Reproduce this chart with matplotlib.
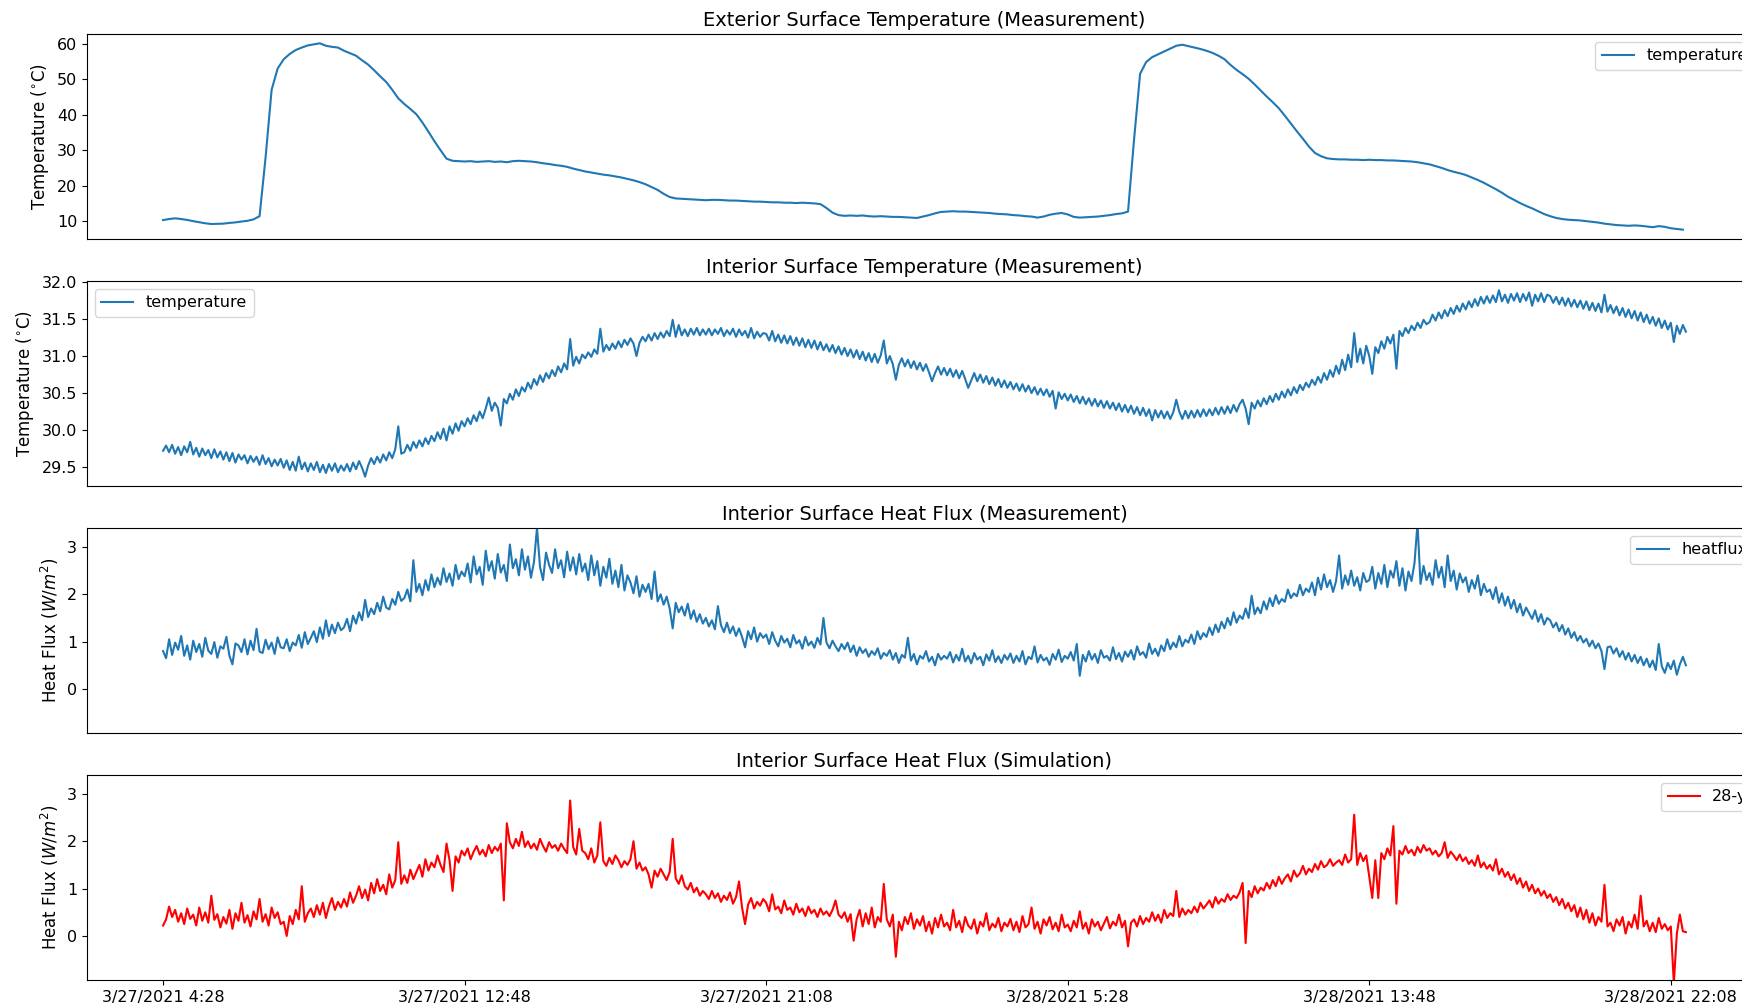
import numpy as np
import matplotlib
matplotlib.use('Agg')
import matplotlib.pyplot as plt


# sample spacing in minutes from 3/27/2021 4:28
ext_step = 10
step = 5

tick_pos = [0, 500, 1000, 1500, 2000, 2500]
tick_labels = ['3/27/2021 4:28', '3/27/2021 12:48', '3/27/2021 21:08',
               '3/28/2021 5:28', '3/28/2021 13:48', '3/28/2021 22:08']

# exterior surface temperature (measurement), every 10 min
ext_temp = [
    10.3, 10.6, 10.8, 10.6, 10.35, 10.0, 9.7, 9.4, 9.2, 9.25,
    9.3, 9.5, 9.65, 9.9, 10.1, 10.5, 11.4, 28.0, 47.0, 53.0,
    55.6, 57.1, 58.2, 58.9, 59.5, 59.8, 60.1, 59.4, 59.1, 58.9,
    58.0, 57.3, 56.6, 55.3, 54.1, 52.5, 50.8, 49.2, 47.0, 44.6,
    43.0, 41.6, 40.1, 37.8, 35.2, 32.5, 30.0, 27.6, 27.0, 26.9,
    26.8, 26.9, 26.7, 26.8, 26.9, 26.7, 26.8, 26.6, 26.9, 27.0,
    26.9, 26.8, 26.6, 26.3, 26.1, 25.8, 25.6, 25.3, 24.8, 24.4,
    24.0, 23.7, 23.4, 23.1, 22.9, 22.6, 22.3, 21.9, 21.5, 21.0,
    20.4, 19.6, 18.8, 17.7, 16.8, 16.4, 16.3, 16.2, 16.1, 16.0,
    15.9, 16.0, 16.0, 15.9, 15.8, 15.8, 15.7, 15.6, 15.5, 15.5,
    15.4, 15.3, 15.3, 15.2, 15.2, 15.1, 15.2, 15.1, 15.0, 14.8,
    13.7, 12.4, 11.7, 11.5, 11.6, 11.5, 11.6, 11.4, 11.3, 11.4,
    11.3, 11.2, 11.2, 11.1, 11.0, 10.9, 11.3, 11.7, 12.2, 12.6,
    12.7, 12.8, 12.7, 12.7, 12.6, 12.5, 12.4, 12.3, 12.1, 12.0,
    11.9, 11.7, 11.6, 11.4, 11.3, 11.0, 11.3, 11.8, 12.1, 12.3,
    11.9, 11.2, 11.0, 11.1, 11.2, 11.3, 11.5, 11.7, 12.0, 12.2,
    12.7, 33.0, 51.5, 54.8, 56.2, 57.0, 57.8, 58.6, 59.4, 59.7,
    59.3, 58.9, 58.5, 58.0, 57.4, 56.6, 55.6, 54.0, 52.6, 51.4,
    50.1, 48.5, 46.8, 45.1, 43.5, 41.8, 39.7, 37.5, 35.3, 33.2,
    31.0, 29.2, 28.3, 27.7, 27.5, 27.4, 27.4, 27.3, 27.3, 27.2,
    27.3, 27.2, 27.2, 27.1, 27.1, 27.0, 26.9, 26.8, 26.6, 26.3,
    26.0, 25.5, 25.0, 24.4, 23.9, 23.5, 23.0, 22.3, 21.6, 20.8,
    19.9, 19.0, 18.0, 16.9, 16.0, 15.1, 14.3, 13.6, 12.8, 12.0,
    11.4, 10.9, 10.6, 10.4, 10.3, 10.2, 10.0, 9.8, 9.6, 9.3,
    9.1, 8.9, 8.8, 8.7, 8.8, 8.7, 8.5, 8.3, 8.6, 8.4,
    8.0, 7.8, 7.6,
]

# interior surface temperature (measurement), every 5 min
int_temp = [
    29.72, 29.79, 29.70, 29.80, 29.68, 29.77, 29.66, 29.78, 29.70, 29.84, 29.67, 29.76, 29.64, 29.75, 29.66, 29.73, 29.62, 29.74, 29.63, 29.71,
    29.60, 29.70, 29.58, 29.69, 29.56, 29.67, 29.60, 29.66, 29.55, 29.65, 29.57, 29.64, 29.53, 29.66, 29.54, 29.62, 29.51, 29.60, 29.52, 29.61,
    29.49, 29.59, 29.46, 29.57, 29.45, 29.64, 29.47, 29.56, 29.44, 29.55, 29.46, 29.57, 29.43, 29.53, 29.42, 29.54, 29.45, 29.55, 29.43, 29.52,
    29.45, 29.54, 29.44, 29.56, 29.47, 29.58, 29.49, 29.37, 29.52, 29.62, 29.54, 29.64, 29.56, 29.67, 29.59, 29.70, 29.62, 29.74, 30.05, 29.68,
    29.70, 29.80, 29.72, 29.84, 29.76, 29.86, 29.78, 29.89, 29.81, 29.92, 29.85, 29.97, 29.88, 30.02, 29.86, 30.05, 29.95, 30.09, 29.99, 30.12,
    30.05, 30.16, 30.08, 30.20, 30.12, 30.25, 30.16, 30.29, 30.44, 30.26, 30.37, 30.30, 30.06, 30.42, 30.36, 30.49, 30.41, 30.55, 30.46, 30.58,
    30.52, 30.64, 30.56, 30.69, 30.61, 30.74, 30.65, 30.77, 30.70, 30.81, 30.73, 30.86, 30.78, 30.90, 30.82, 31.23, 30.87, 30.99, 30.90, 31.02,
    30.97, 31.05, 30.99, 31.09, 31.03, 31.37, 31.06, 31.15, 31.08, 31.17, 31.10, 31.20, 31.12, 31.22, 31.15, 31.24, 31.17, 31.00, 31.18, 31.26,
    31.20, 31.29, 31.21, 31.31, 31.23, 31.32, 31.25, 31.34, 31.27, 31.49, 31.26, 31.42, 31.28, 31.36, 31.27, 31.37, 31.29, 31.38, 31.28, 31.36,
    31.29, 31.37, 31.28, 31.36, 31.30, 31.38, 31.27, 31.35, 31.29, 31.37, 31.26, 31.36, 31.28, 31.34, 31.25, 31.38, 31.24, 31.33, 31.26, 31.31,
    31.30, 31.21, 31.34, 31.20, 31.29, 31.18, 31.28, 31.17, 31.27, 31.15, 31.25, 31.14, 31.24, 31.12, 31.22, 31.11, 31.21, 31.09, 31.19, 31.08,
    31.16, 31.06, 31.15, 31.04, 31.13, 31.02, 31.11, 31.00, 31.09, 30.98, 31.08, 30.96, 31.06, 30.94, 31.04, 30.92, 31.03, 30.91, 31.01, 31.21,
    30.90, 31.00, 30.89, 30.68, 30.88, 30.97, 30.86, 30.95, 30.84, 30.93, 30.82, 30.91, 30.80, 30.89, 30.78, 30.66, 30.77, 30.86, 30.75, 30.84,
    30.74, 30.83, 30.72, 30.81, 30.70, 30.80, 30.69, 30.57, 30.67, 30.77, 30.66, 30.75, 30.64, 30.73, 30.62, 30.71, 30.60, 30.69, 30.58, 30.67,
    30.57, 30.65, 30.55, 30.63, 30.53, 30.62, 30.52, 30.60, 30.50, 30.58, 30.48, 30.56, 30.47, 30.55, 30.45, 30.53, 30.29, 30.51, 30.42, 30.49,
    30.40, 30.48, 30.38, 30.46, 30.36, 30.45, 30.35, 30.43, 30.33, 30.42, 30.32, 30.40, 30.30, 30.39, 30.29, 30.37, 30.27, 30.36, 30.25, 30.34,
    30.24, 30.33, 30.22, 30.31, 30.20, 30.30, 30.19, 30.28, 30.13, 30.27, 30.17, 30.26, 30.16, 30.25, 30.15, 30.24, 30.41, 30.25, 30.15, 30.26,
    30.16, 30.26, 30.17, 30.27, 30.18, 30.28, 30.19, 30.28, 30.20, 30.30, 30.21, 30.31, 30.22, 30.32, 30.23, 30.34, 30.25, 30.35, 30.41, 30.29,
    30.08, 30.37, 30.29, 30.40, 30.32, 30.43, 30.35, 30.46, 30.38, 30.49, 30.41, 30.52, 30.44, 30.55, 30.47, 30.58, 30.50, 30.61, 30.54, 30.64,
    30.58, 30.68, 30.61, 30.72, 30.64, 30.77, 30.68, 30.81, 30.72, 30.87, 30.76, 30.95, 30.81, 31.02, 30.85, 31.31, 30.92, 31.10, 30.90, 31.14,
    31.00, 30.76, 31.12, 31.04, 31.20, 31.10, 31.26, 31.17, 31.29, 30.83, 31.34, 31.27, 31.38, 31.31, 31.41, 31.35, 31.45, 31.38, 31.49, 31.43,
    31.46, 31.56, 31.48, 31.59, 31.51, 31.62, 31.54, 31.65, 31.57, 31.68, 31.60, 31.71, 31.63, 31.74, 31.66, 31.77, 31.68, 31.80, 31.71, 31.81,
    31.72, 31.82, 31.73, 31.89, 31.74, 31.83, 31.72, 31.84, 31.75, 31.85, 31.73, 31.84, 31.75, 31.86, 31.68, 31.83, 31.74, 31.85, 31.73, 31.83,
    31.81, 31.72, 31.80, 31.70, 31.79, 31.68, 31.78, 31.67, 31.76, 31.66, 31.75, 31.64, 31.74, 31.62, 31.72, 31.61, 31.71, 31.59, 31.83, 31.60,
    31.69, 31.58, 31.67, 31.55, 31.65, 31.53, 31.63, 31.51, 31.61, 31.48, 31.59, 31.46, 31.56, 31.44, 31.53, 31.41, 31.51, 31.38, 31.48, 31.36,
    31.45, 31.19, 31.41, 31.30, 31.42, 31.33,
]

# interior surface heat flux (measurement), every 5 min
heatflux = [
    0.80, 0.65, 1.05, 0.72, 0.98, 0.83, 1.12, 0.70, 0.92, 0.62, 1.02, 0.78, 0.95, 0.68, 1.08, 0.81, 0.74, 0.99, 0.66, 0.90,
    0.85, 1.10, 0.70, 0.52, 0.96, 0.92, 0.78, 1.05, 0.73, 1.02, 0.82, 1.27, 0.79, 0.76, 1.04, 0.84, 0.98, 0.74, 1.09, 0.88,
    0.86, 1.05, 0.80, 0.98, 0.92, 1.14, 0.87, 1.20, 0.95, 1.08, 1.22, 0.99, 1.30, 1.06, 1.45, 1.12, 1.36, 1.18, 1.40, 1.24,
    1.30, 1.48, 1.22, 1.55, 1.38, 1.62, 1.45, 1.88, 1.52, 1.70, 1.58, 1.82, 1.64, 1.95, 1.72, 1.68, 1.90, 1.78, 2.05, 1.86,
    1.92, 2.10, 1.85, 2.72, 2.05, 2.22, 1.98, 2.30, 2.08, 2.42, 2.15, 2.35, 2.20, 2.55, 2.26, 2.44, 2.18, 2.62, 2.32, 2.48,
    2.38, 2.65, 2.25, 2.80, 2.42, 2.58, 2.20, 2.92, 2.50, 2.70, 2.33, 2.85, 2.46, 2.62, 2.28, 3.05, 2.55, 2.74, 2.40, 2.95,
    2.52, 2.80, 2.35, 2.68, 3.40, 2.58, 2.30, 2.88, 2.62, 2.45, 2.95, 2.55, 2.72, 2.36, 2.90, 2.50, 2.78, 2.42, 2.85, 2.48,
    2.65, 2.30, 2.82, 2.40, 2.70, 2.18, 2.58, 2.35, 2.75, 2.22, 2.50, 2.15, 2.62, 2.08, 2.40, 2.25, 2.02, 2.38, 1.95, 2.20,
    2.05, 2.22, 1.90, 2.48, 1.85, 2.00, 1.78, 1.95, 1.70, 1.28, 1.82, 1.62, 1.74, 1.55, 1.80, 1.48, 1.66, 1.42, 1.58, 1.38,
    1.50, 1.32, 1.45, 1.26, 1.75, 1.35, 1.20, 1.40, 1.18, 1.32, 1.12, 1.28, 1.10, 0.88, 1.22, 1.05, 1.30, 1.00, 1.18, 1.08,
    1.15, 0.95, 1.20, 1.02, 0.90, 1.12, 0.98, 1.06, 0.88, 1.14, 0.96, 1.03, 0.85, 1.10, 0.92, 1.00, 0.87, 1.08, 0.94, 1.50,
    0.98, 0.86, 1.02, 0.90, 0.80, 0.95, 0.84, 0.98, 0.78, 0.92, 0.70, 0.88, 0.76, 0.84, 0.68, 0.80, 0.72, 0.86, 0.64, 0.76,
    0.70, 0.82, 0.62, 0.76, 0.55, 0.72, 0.66, 1.08, 0.60, 0.74, 0.52, 0.70, 0.64, 0.80, 0.58, 0.68, 0.50, 0.74, 0.62, 0.70,
    0.64, 0.78, 0.56, 0.72, 0.60, 0.85, 0.58, 0.70, 0.54, 0.76, 0.62, 0.68, 0.50, 0.73, 0.60, 0.82, 0.57, 0.69, 0.55, 0.72,
    0.62, 0.75, 0.55, 0.70, 0.58, 0.80, 0.52, 0.68, 0.63, 0.90, 0.56, 0.72, 0.60, 0.66, 0.51, 0.74, 0.62, 0.83, 0.57, 0.70,
    0.64, 0.78, 0.60, 0.95, 0.28, 0.72, 0.58, 0.80, 0.62, 0.74, 0.55, 0.82, 0.66, 0.70, 0.60, 0.88, 0.63, 0.76, 0.58, 0.79,
    0.68, 0.82, 0.62, 0.90, 0.72, 0.78, 0.66, 0.96, 0.74, 0.85, 0.70, 0.92, 0.80, 1.05, 0.84, 0.98, 0.88, 1.12, 0.90, 1.04,
    0.98, 1.15, 0.95, 1.22, 1.05, 1.18, 1.10, 1.30, 1.14, 1.36, 1.20, 1.42, 1.28, 1.50, 1.35, 1.62, 1.40, 1.55, 1.48, 1.70,
    1.50, 1.97, 1.58, 1.72, 1.60, 1.85, 1.68, 1.92, 1.75, 1.98, 1.80, 1.90, 1.84, 2.10, 1.92, 2.02, 1.96, 2.20, 1.98, 2.12,
    2.05, 2.25, 1.98, 2.35, 2.10, 2.42, 2.15, 2.30, 2.05, 2.28, 2.82, 2.12, 2.40, 2.20, 2.50, 2.18, 2.36, 2.08, 2.45, 2.26,
    2.30, 2.58, 2.12, 2.45, 2.22, 2.62, 2.15, 2.50, 2.35, 2.70, 2.18, 2.55, 2.08, 2.48, 2.28, 2.66, 3.50, 2.22, 2.60, 2.30,
    2.45, 2.20, 2.72, 2.35, 2.58, 2.15, 2.82, 2.28, 2.50, 2.10, 2.44, 2.25, 2.36, 2.05, 2.30, 2.12, 2.40, 1.98, 2.22, 2.05,
    2.10, 1.90, 2.15, 1.82, 2.02, 1.76, 1.95, 1.70, 1.88, 1.62, 1.80, 1.55, 1.72, 1.60, 1.48, 1.66, 1.42, 1.58, 1.36, 1.50,
    1.45, 1.30, 1.40, 1.22, 1.35, 1.15, 1.28, 1.08, 1.20, 1.02, 1.12, 0.98, 1.06, 0.90, 1.02, 0.86, 0.96, 0.80, 0.42, 0.88,
    0.90, 0.75, 0.86, 0.68, 0.80, 0.62, 0.76, 0.58, 0.72, 0.55, 0.68, 0.50, 0.64, 0.46, 0.60, 0.40, 0.95, 0.48, 0.34, 0.55,
    0.42, 0.60, 0.30, 0.52, 0.68, 0.50,
]

# interior surface heat flux (simulation), every 5 min
sim_flux = [
    0.22, 0.35, 0.62, 0.40, 0.55, 0.30, 0.48, 0.25, 0.58, 0.36, 0.45, 0.22, 0.60, 0.32, 0.50, 0.28, 0.85, 0.34, 0.46, 0.18,
    0.40, 0.26, 0.55, 0.15, 0.48, 0.32, 0.70, 0.28, 0.44, 0.20, 0.52, 0.35, 0.78, 0.30, 0.46, 0.22, 0.60, 0.38, 0.50, 0.25,
    0.30, 0.00, 0.42, 0.25, 0.55, 0.35, 1.05, 0.30, 0.48, 0.58, 0.40, 0.65, 0.45, 0.70, 0.38, 0.62, 0.80, 0.55, 0.72, 0.60,
    0.78, 0.62, 0.92, 0.70, 0.85, 1.05, 0.80, 0.98, 0.75, 1.12, 0.90, 1.20, 0.95, 1.08, 0.88, 1.30, 1.02, 1.18, 1.98, 1.10,
    1.28, 1.12, 1.40, 1.20, 1.35, 1.50, 1.25, 1.62, 1.38, 1.55, 1.45, 1.70, 1.50, 1.35, 1.95, 1.60, 0.95, 1.68, 1.55, 1.80,
    1.70, 1.85, 1.62, 1.78, 1.90, 1.72, 1.82, 1.68, 1.92, 1.75, 1.88, 1.80, 1.95, 0.75, 2.38, 1.98, 1.85, 2.05, 1.90, 2.20,
    1.88, 2.00, 1.85, 1.95, 1.82, 2.05, 1.90, 1.78, 1.98, 1.86, 1.92, 1.80, 1.95, 1.84, 1.75, 2.86, 1.88, 1.72, 2.26, 1.80,
    1.75, 1.62, 1.85, 1.55, 1.70, 2.40, 1.58, 1.48, 1.65, 1.52, 1.70, 1.60, 1.45, 1.58, 1.50, 1.62, 2.00, 1.42, 1.55, 1.38,
    1.45, 1.30, 1.02, 1.38, 1.25, 1.42, 1.30, 1.18, 1.35, 2.05, 1.22, 1.10, 1.28, 1.05, 0.98, 1.12, 0.92, 1.02, 0.85, 0.95,
    0.88, 0.78, 0.95, 0.80, 0.90, 0.72, 0.85, 0.76, 0.92, 0.68, 0.82, 1.15, 0.60, 0.25, 0.66, 0.80, 0.58, 0.72, 0.64, 0.78,
    0.70, 0.52, 0.88, 0.56, 0.62, 0.48, 0.75, 0.55, 0.60, 0.45, 0.68, 0.50, 0.58, 0.42, 0.62, 0.48, 0.55, 0.40, 0.58, 0.45,
    0.52, 0.42, 0.55, 0.75, 0.45, 0.38, 0.50, 0.30, 0.46, -0.10, 0.35, 0.55, 0.20, 0.48, 0.25, 0.60, 0.18, 0.40, 0.30, 1.10,
    0.35, 0.20, 0.45, -0.44, 0.30, 0.12, 0.40, 0.25, 0.48, 0.15, 0.35, 0.22, 0.42, 0.10, 0.30, 0.05, 0.38, 0.18, 0.45, 0.20,
    0.28, 0.12, 0.55, 0.18, 0.32, 0.08, 0.40, 0.22, 0.15, 0.35, 0.05, 0.30, 0.20, 0.48, 0.12, 0.26, 0.18, 0.38, 0.10, 0.28,
    0.20, 0.36, 0.12, 0.30, 0.08, 0.42, 0.18, 0.25, 0.60, 0.15, 0.30, 0.05, 0.35, 0.22, 0.40, 0.14, 0.28, 0.10, 0.45, 0.18,
    0.24, 0.10, 0.32, 0.18, 0.52, 0.15, 0.28, 0.05, 0.35, 0.20, 0.30, 0.12, 0.26, 0.40, 0.16, 0.30, 0.22, 0.45, 0.18, 0.32,
    -0.22, 0.28, 0.35, 0.20, 0.42, 0.25, 0.38, 0.30, 0.50, 0.32, 0.45, 0.28, 0.55, 0.38, 0.48, 0.42, 0.95, 0.40, 0.58, 0.45,
    0.55, 0.48, 0.62, 0.50, 0.70, 0.58, 0.66, 0.75, 0.60, 0.82, 0.68, 0.78, 0.72, 0.88, 0.76, 0.85, 0.80, 0.92, 1.12, -0.15,
    0.95, 0.82, 1.05, 0.90, 1.02, 0.96, 1.12, 1.00, 1.18, 1.05, 1.25, 1.10, 1.22, 1.30, 1.15, 1.38, 1.25, 1.32, 1.48, 1.30,
    1.42, 1.35, 1.52, 1.40, 1.58, 1.45, 1.50, 1.62, 1.48, 1.55, 1.60, 1.50, 1.72, 1.55, 1.62, 2.56, 1.50, 1.75, 1.58, 1.70,
    1.25, 0.80, 1.60, 0.80, 1.75, 1.62, 1.85, 1.70, 2.32, 0.68, 1.80, 1.72, 1.90, 1.75, 1.82, 1.70, 1.88, 1.76, 1.92, 1.80,
    1.85, 1.72, 1.80, 1.68, 1.75, 1.98, 1.65, 1.78, 1.70, 1.60, 1.72, 1.58, 1.66, 1.52, 1.60, 1.48, 1.70, 1.45, 1.55, 1.42,
    1.50, 1.38, 1.62, 1.30, 1.42, 1.25, 1.35, 1.18, 1.30, 1.10, 1.22, 1.02, 1.15, 0.95, 1.08, 0.90, 1.00, 0.85, 0.95, 0.80,
    0.88, 0.72, 0.82, 0.65, 0.78, 0.58, 0.70, 0.52, 0.65, 0.40, 0.60, 0.35, 0.55, 0.28, 0.48, 0.22, 0.40, 0.30, 1.08, 0.20,
    0.28, 0.10, 0.35, 0.22, 0.40, 0.05, 0.30, 0.18, 0.45, 0.15, 0.85, 0.20, 0.32, 0.10, 0.28, 0.08, 0.38, 0.15, 0.25, 0.12,
    0.20, -1.00, 0.05, 0.45, 0.10, 0.08,
]

x_ext = np.arange(len(ext_temp)) * ext_step
x_int = np.arange(len(int_temp)) * step
x_hf = np.arange(len(heatflux)) * step
x_sim = np.arange(len(sim_flux)) * step

blue = '#1f77b4'
fs_tick = 11.5
fs_label = 12
fs_title = 14

fig = plt.figure(figsize=(17.42, 10.08), dpi=100)
# axes run past the right edge of the picture, as in the original crop
left, width, height = 0.0499, 0.9616, 0.2034
ax1 = fig.add_axes([left, 0.7629, width, height])
ax2 = fig.add_axes([left, 0.5179, width, height], sharex=ax1)
ax3 = fig.add_axes([left, 0.2728, width, height], sharex=ax1)
ax4 = fig.add_axes([left, 0.0278, width, height], sharex=ax1, sharey=ax3)

ax1.plot(x_ext, ext_temp, color=blue, label='temperature')
ax1.set_title('Exterior Surface Temperature (Measurement)', fontsize=fs_title)
ax1.set_ylabel('Temperature ($^{\\circ}$C)', fontsize=fs_label)
ax1.legend(loc='upper right', fontsize=fs_tick)

ax2.plot(x_int, int_temp, color=blue, label='temperature')
ax2.set_title('Interior Surface Temperature (Measurement)', fontsize=fs_title)
ax2.set_ylabel('Temperature ($^{\\circ}$C)', fontsize=fs_label)
ax2.legend(loc='upper left', fontsize=fs_tick)

ax3.plot(x_hf, heatflux, color=blue, label='heatflux')
ax3.set_title('Interior Surface Heat Flux (Measurement)', fontsize=fs_title)
ax3.set_ylabel('Heat Flux ($W/m^2$)', fontsize=fs_label)
ax3.legend(loc='upper right', fontsize=fs_tick)

ax4.plot(x_sim, sim_flux, color='red', label='28-y')
ax4.set_title('Interior Surface Heat Flux (Simulation)', fontsize=fs_title)
ax4.set_ylabel('Heat Flux ($W/m^2$)', fontsize=fs_label)
ax4.legend(loc='upper right', fontsize=fs_tick)
ax4.set_ylim(-0.93, 3.40)
ax4.set_yticks([0, 1, 2, 3])

ax4.set_xticks(tick_pos)
ax4.set_xticklabels(tick_labels)

for ax in [ax1, ax2, ax3]:
    ax.tick_params(axis='x', bottom=False, labelbottom=False)
for ax in [ax1, ax2, ax3, ax4]:
    ax.tick_params(labelsize=fs_tick)

fig.savefig('out.png', dpi=100)
